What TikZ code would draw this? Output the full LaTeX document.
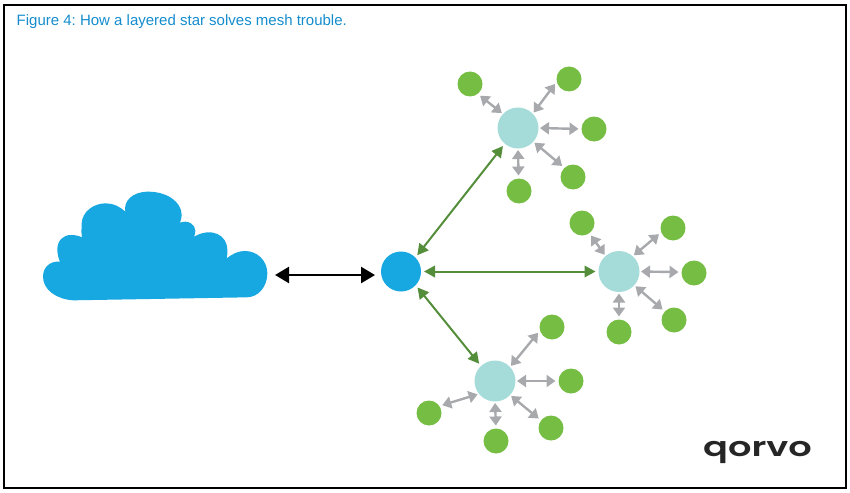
\documentclass[tikz,border=0pt]{standalone}
\usepackage{fontspec}
\setmainfont{Liberation Sans}
\newfontfamily\logofont{Poppins SemiBold}
\usetikzlibrary{arrows.meta}
\definecolor{hubblue}{RGB}{23,168,225}
\definecolor{midteal}{RGB}{165,219,216}
\definecolor{leafgreen}{RGB}{118,190,67}
\definecolor{linkgreen}{RGB}{84,142,58}
\definecolor{linkgray}{RGB}{168,169,173}
\definecolor{titleblue}{RGB}{20,140,205}
\tikzset{
  hub/.style={circle, fill=hubblue, inner sep=0, outer sep=0, minimum size=40pt},
  mid/.style={circle, fill=midteal, inner sep=0, outer sep=0, minimum size=41pt},
  leaf/.style={circle, fill=leafgreen, inner sep=0, outer sep=0, minimum size=25pt},
  uplink/.style={linkgreen, line width=2pt, {Triangle[length=11pt,width=11.5pt]}-{Triangle[length=11pt,width=11.5pt]}, shorten <=3pt, shorten >=3pt},
  downlink/.style={linkgray, line width=2.4pt, {Triangle[length=9pt,width=12pt]}-{Triangle[length=9pt,width=12pt]}, shorten <=1.5pt, shorten >=3pt},
}
\begin{document}
\begin{tikzpicture}[x=1pt, y=-1pt]
\useasboundingbox (0, 0) rectangle (850, 492);
\draw [line width=1.4pt] (4, 5) rectangle (846, 488);

\node (title) [anchor=west, inner sep=0, text=titleblue, font=\fontsize{15}{17}\selectfont\frenchspacing] at (16.5, 22) {Figure 4: How a layered star solves mesh trouble.};

\begin{scope}[shift={(20, 170)}, xscale=1/3, yscale=1/3]
\fill [hubblue] (160, 391) .. controls (110, 388) and (69, 360) .. (69, 320)
  .. controls (69, 292) and (90, 272) .. (120, 275)
  .. controls (115, 265) and (112, 250) .. (112, 238)
  .. controls (112, 212) and (130, 195) .. (152, 195)
  .. controls (165, 195) and (175, 197) .. (186, 202)
  .. controls (183, 190) and (185, 175) .. (185, 160)
  .. controls (187, 125) and (220, 100) .. (258, 100)
  .. controls (280, 100) and (300, 110) .. (316, 125)
  .. controls (310, 95) and (335, 65) .. (385, 65)
  .. controls (440, 65) and (485, 95) .. (485, 135)
  .. controls (485, 142) and (483, 150) .. (480, 158)
  .. controls (505, 148) and (526, 165) .. (526, 182)
  .. controls (526, 188) and (525, 195) .. (522, 200)
  .. controls (575, 170) and (622, 195) .. (622, 240)
  .. controls (622, 250) and (622, 258) .. (620, 265)
  .. controls (640, 250) and (655, 243) .. (675, 243)
  .. controls (712, 243) and (742, 272) .. (742, 310)
  .. controls (742, 350) and (715, 382) .. (680, 382)
  -- cycle;
\end{scope}

\node (hub) [hub] at (401, 271.5) {};
\node (midtop) [mid] at (518, 128) {};
\node (midright) [mid] at (619, 271.5) {};
\node (midbottom) [mid] at (495, 381) {};

\node (topa) [leaf] at (470, 84) {};
\node (topb) [leaf] at (569, 79) {};
\node (topc) [leaf] at (594, 129) {};
\node (topd) [leaf] at (573, 177) {};
\node (tope) [leaf] at (519, 191) {};

\node (righta) [leaf] at (582, 223) {};
\node (rightb) [leaf] at (673, 228) {};
\node (rightc) [leaf] at (694, 273) {};
\node (rightd) [leaf] at (674, 320) {};
\node (righte) [leaf] at (619, 332) {};

\node (bottoma) [leaf] at (552, 327) {};
\node (bottomb) [leaf] at (571, 381) {};
\node (bottomc) [leaf] at (551, 428) {};
\node (bottomd) [leaf] at (496, 441) {};
\node (bottome) [leaf] at (429, 413) {};

\coordinate (cloudend) at (275, 275);
\coordinate (hubend) at (375, 275);
\draw [line width=2.5pt, {Triangle[length=14pt,width=16pt]}-{Triangle[length=14pt,width=16pt]}] (cloudend) -- (hubend);

\draw [uplink] (hub.44) -- (midtop.230);
\draw [uplink] (hub.east) -- (midright.west);
\draw [uplink] (hub.-43) -- (midbottom.133);

\draw [downlink] (midtop.137) -- (topa.-52);
\draw [downlink] (midtop.44) -- (topb.192);
\draw [downlink] (midtop.east) -- (topc.west);
\draw [downlink] (midtop.-42) -- (topd.133);
\draw [downlink] (midtop.south) -- (tope.92);

\draw [downlink] (midright.131) -- (righta.-54);
\draw [downlink] (midright.48) -- (rightb.200);
\draw [downlink] (midright.east) -- (rightc.176);
\draw [downlink] (midright.-42) -- (rightd.137);
\draw [downlink] (midright.south) -- (righte.north);

\draw [downlink] (midbottom.43) -- (bottoma.196);
\draw [downlink] (midbottom.east) -- (bottomb.west);
\draw [downlink] (midbottom.-43) -- (bottomc.143);
\draw [downlink] (midbottom.south) -- (bottomd.north);
\draw [downlink] (midbottom.219) -- (bottome.34);

\node (logo) [anchor=center, inner sep=0, xscale=1.36, transform shape, text=black!85, font=\logofont\fontsize{27}{27}\selectfont] at (757.5, 452) {qorvo};
\end{tikzpicture}
\end{document}
